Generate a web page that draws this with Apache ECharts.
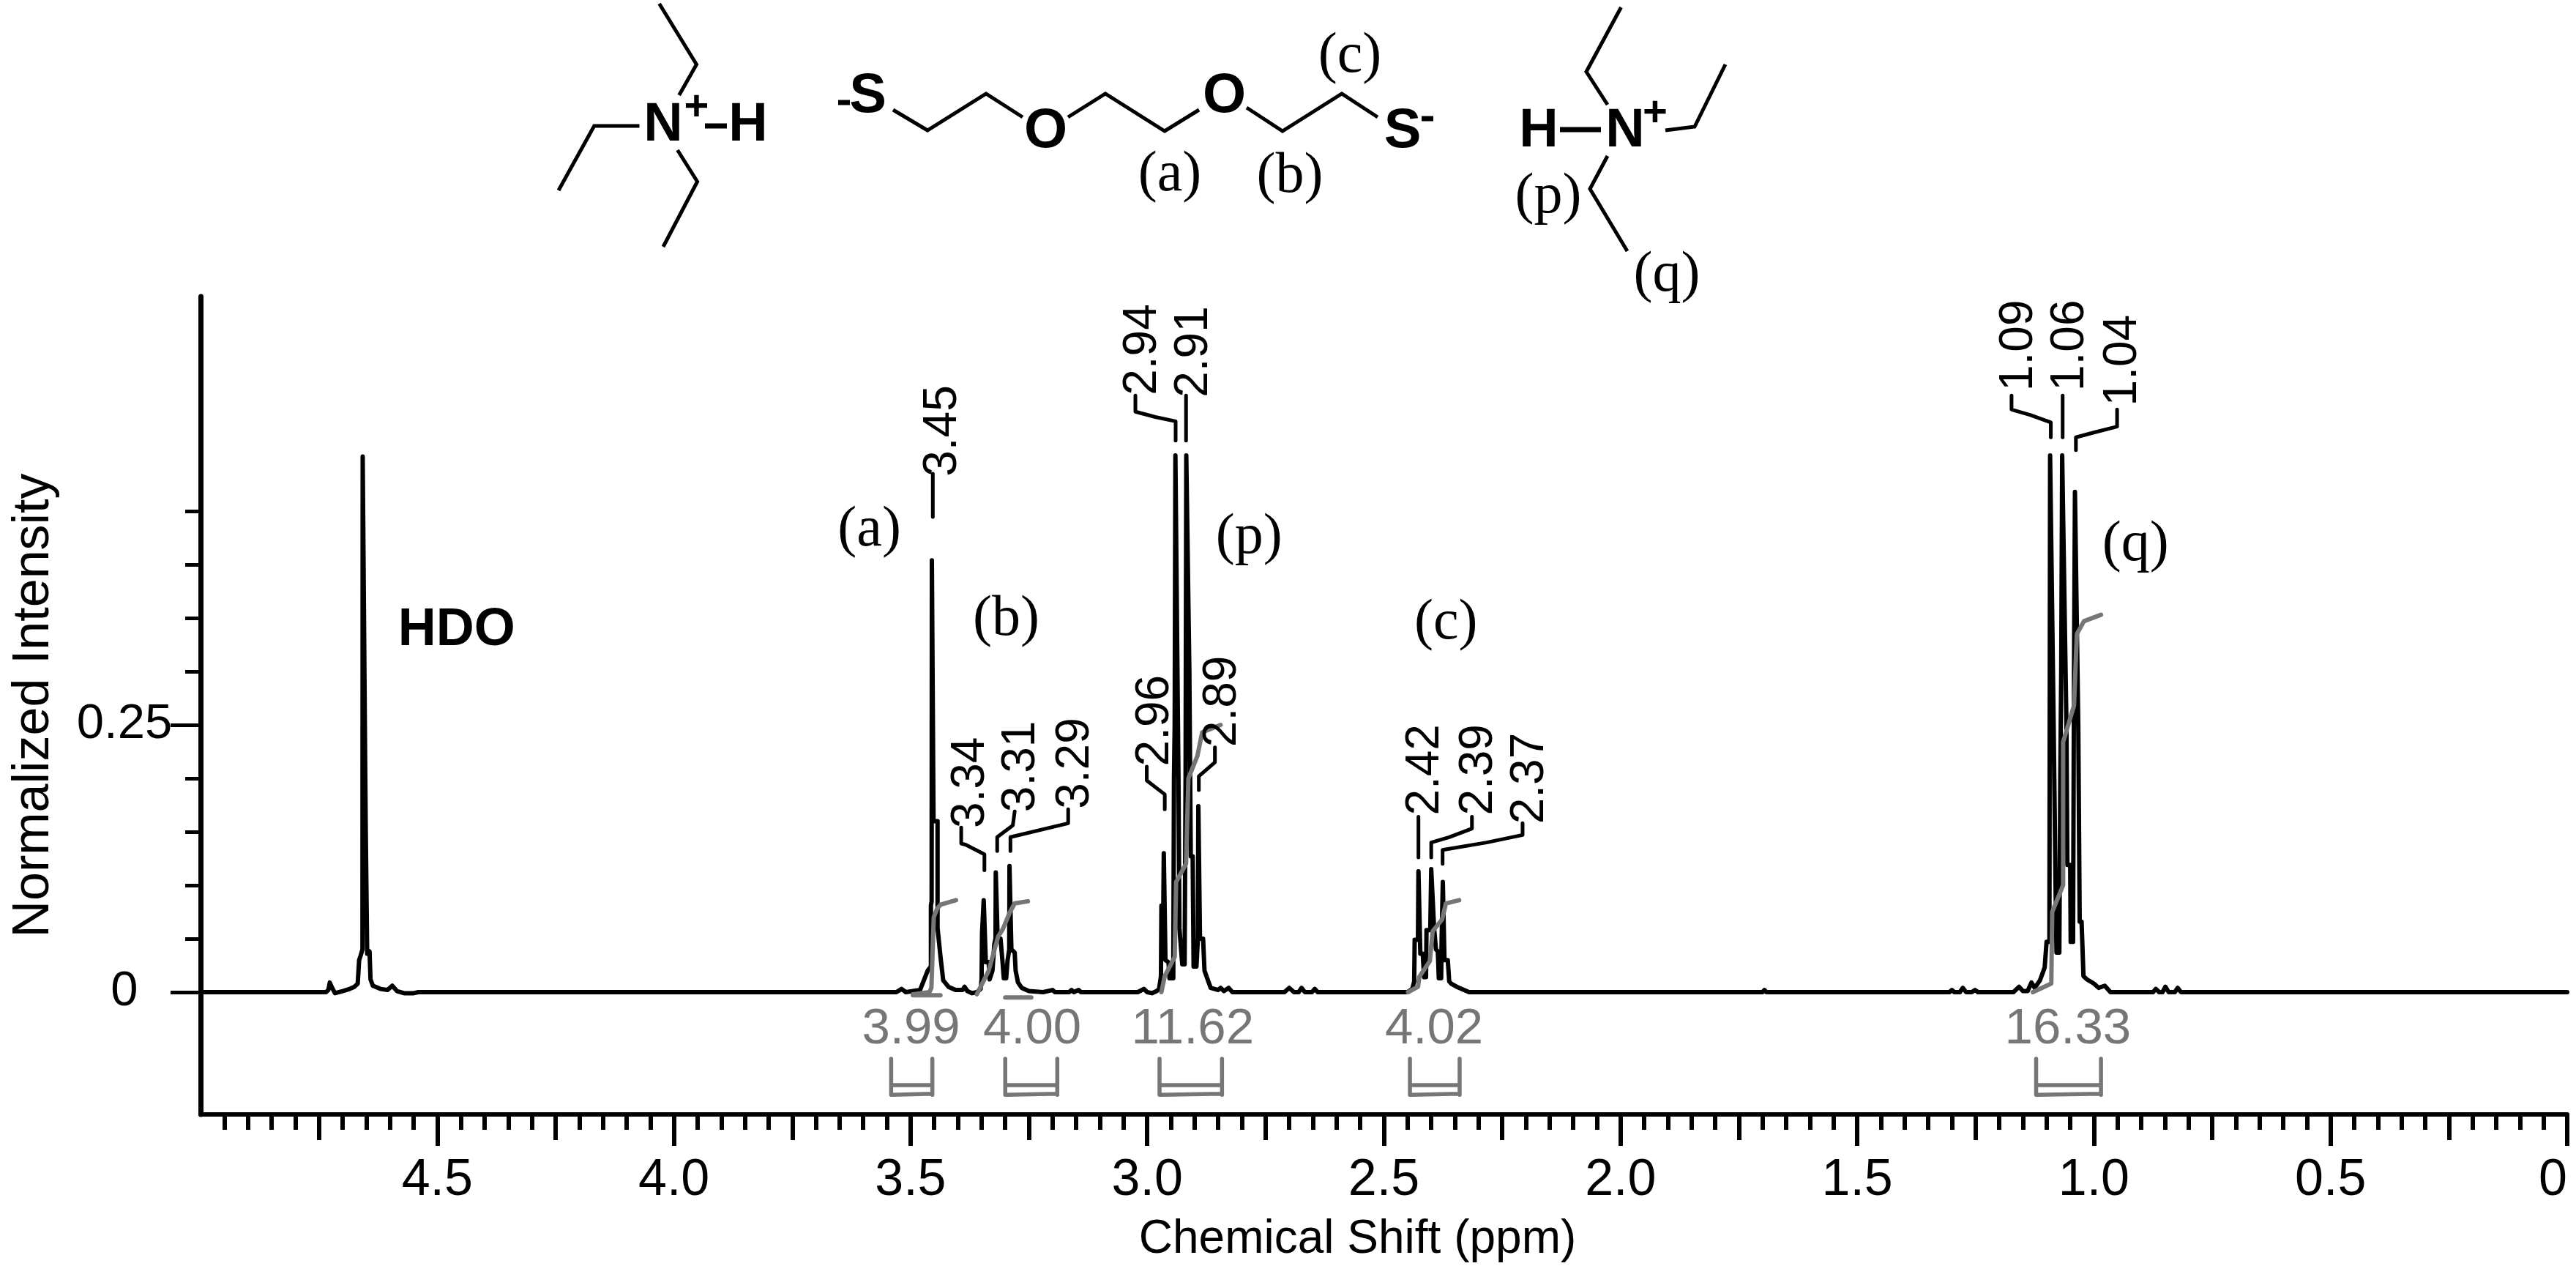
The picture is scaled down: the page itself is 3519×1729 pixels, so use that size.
<!DOCTYPE html>
<html><head><meta charset="utf-8">
<style>html,body{margin:0;padding:0;background:#fff}#c{width:3519px;height:1729px}</style>
<script src="https://cdn.jsdelivr.net/npm/echarts@6/dist/echarts.min.js"></script>
</head><body><div id="c"></div>
<script>
// ---- spectrum trace [ppm, intensity] ----
const traceStart = [[5,0],[4.735,0]];
const hdoRegion = [[4.73,.002],[4.727,.009],[4.722,.004],[4.716,-.001],[4.70,.001],[4.685,.003],[4.675,.005],[4.668,.008],[4.665,.03],[4.662,.034],[4.658,.04],[4.6575,.501],[4.6545,.501],[4.652,.2],[4.651,.15],[4.648,.036],[4.643,.038],[4.641,.012],[4.636,.006],[4.62,.003],[4.605,.002],[4.595,.006],[4.585,.001],[4.57,-.001],[4.55,-.001],[4.54,0]];
const regionA = [[3.53,0],[3.519,.003],[3.51,0],[3.48,.002],[3.464,.02],[3.457,.024],[3.457,.081],[3.4555,.085],[3.455,.404],[3.452,.404],[3.4515,.16],[3.443,.16],[3.443,.06],[3.436,.03],[3.431,.011],[3.42,.005],[3.405,.002],[3.39,.002],[3.386,.005],[3.38,.001],[3.37,-.001]];
const regionB = [[3.36,0],[3.352,.003],[3.35,.012],[3.349,.055],[3.346,.055],[3.3455,.086],[3.3425,.086],[3.341,.028],[3.335,.028],[3.333,.012],[3.33,.012],[3.327,.02],[3.323,.045],[3.3205,.05],[3.32,.112],[3.317,.112],[3.316,.05],[3.31,.05],[3.306,.03],[3.303,.013],[3.298,.013],[3.295,.03],[3.2915,.04],[3.291,.118],[3.288,.118],[3.287,.04],[3.28,.037],[3.278,.02],[3.273,.009],[3.265,.004],[3.25,.001],[3.22,0],[3.2,.002],[3.195,0],[3.165,0],[3.16,.002],[3.155,0],[3.145,.002],[3.14,0]];
const regionP = [[3.02,0],[3.007,.003],[3.0,0],[2.99,-.001],[2.98,.001],[2.975,.003],[2.971,.015],[2.970,.081],[2.966,.081],[2.965,.13],[2.962,.13],[2.9615,.03],[2.955,.028],[2.953,.013],[2.945,.013],[2.9435,.2],[2.942,.25],[2.9405,.502],[2.9375,.502],[2.934,.2],[2.932,.06],[2.926,.026],[2.921,.026],[2.919,.2],[2.9175,.502],[2.9145,.502],[2.911,.3],[2.908,.127],[2.904,.127],[2.902,.024],[2.896,.024],[2.893,.05],[2.8925,.05],[2.892,.174],[2.889,.174],[2.8885,.05],[2.882,.05],[2.879,.02],[2.875,.015],[2.866,.004],[2.85,.002],[2.845,.004],[2.838,.001],[2.828,.004],[2.82,0],[2.71,0],[2.70,.004],[2.69,0],[2.68,0],[2.674,.004],[2.667,0],[2.652,0],[2.646,.003],[2.64,0]];
const regionC = [[2.45,0],[2.44,.003],[2.436,.01],[2.435,.049],[2.428,.049],[2.427,.113],[2.424,.113],[2.423,.036],[2.418,.036],[2.415,.014],[2.411,.014],[2.41,.058],[2.402,.058],[2.4,.115],[2.397,.115],[2.394,.06],[2.39,.04],[2.386,.038],[2.384,.013],[2.379,.013],[2.378,.05],[2.376,.05],[2.3755,.103],[2.3725,.103],[2.372,.03],[2.365,.03],[2.362,.01],[2.358,.008],[2.346,.005],[2.32,0]];
const smallBumps = [[1.70,0],[1.696,.002],[1.692,0],[1.305,0],[1.30,.002],[1.295,0],[1.283,0],[1.277,.004],[1.27,0],[1.258,0],[1.251,.002],[1.245,0]];
const regionQ = [[1.17,0],[1.158,.005],[1.15,.001],[1.14,.001],[1.132,.009],[1.125,.004],[1.114,.011],[1.104,.023],[1.1,.047],[1.094,.047],[1.0925,.502],[1.0895,.502],[1.085,.25],[1.081,.1],[1.079,.037],[1.073,.037],[1.071,.2],[1.069,.3],[1.067,.502],[1.064,.502],[1.058,.25],[1.056,.119],[1.05,.119],[1.049,.047],[1.044,.047],[1.042,.3],[1.04,.468],[1.037,.468],[1.033,.25],[1.030,.066],[1.026,.066],[1.022,.015],[1.015,.012],[1.0,.008],[.99,.004],[.977,.006],[.965,.0],[.875,0],[.869,.003],[.862,0],[.855,0],[.849,.005],[.842,0],[.829,0],[.823,.004],[.816,0]];
const traceEnd = [[0,0]];

// ---- integral curves ----
const integralA = [[3.495,-.002],[3.46,0],[3.456,.004],[3.451,.07],[3.444,.078],[3.436,.082],[3.404,.086]];
const integralB = [[3.36,-.002],[3.335,.02],[3.315,.052],[3.305,.059],[3.29,.075],[3.28,.083],[3.252,.085]];
const integralP = [[2.970,0],[2.963,.015],[2.942,.033],[2.939,.103],[2.918,.12],[2.913,.2],[2.894,.221],[2.884,.243],[2.845,.25]];
const integralC = [[2.449,0],[2.428,.005],[2.425,.0145],[2.403,.029],[2.397,.057],[2.377,.068],[2.369,.083],[2.341,.086]];
const integralQ = [[1.129,0],[1.09,.008],[1.088,.075],[1.065,.1],[1.065,.234],[1.042,.268],[1.036,.335],[1.021,.347],[.985,.353]];
const integralTailA = [[3.495,-.003],[3.437,-.003]];
const integralTailB = [[3.3,-.005],[3.245,-.005]];

// ---- integral range brackets ----
const bracketA = [[3.541,-.0623],[3.541,-.096],[3.541,-.095],[3.454,-.095],[3.454,-.0623],[3.454,-.096],[3.454,-.087],[3.541,-.087]];
const bracketB = [[3.30,-.0623],[3.30,-.096],[3.30,-.095],[3.19,-.095],[3.19,-.0623],[3.19,-.096],[3.19,-.087],[3.30,-.087]];
const bracketP = [[2.974,-.0623],[2.974,-.096],[2.974,-.095],[2.842,-.095],[2.842,-.0623],[2.842,-.096],[2.842,-.087],[2.974,-.087]];
const bracketC = [[2.445,-.0623],[2.445,-.096],[2.445,-.095],[2.34,-.095],[2.34,-.0623],[2.34,-.096],[2.34,-.087],[2.445,-.087]];
const bracketQ = [[1.122,-.0623],[1.122,-.096],[1.122,-.095],[.985,-.095],[.985,-.0623],[.985,-.096],[.985,-.087],[1.122,-.087]];

// ---- peak pick leaders ----
const leaders = [
 [[3.453,.4445],[3.453,.485]],
 [[3.344,.114],[3.344,.129],[3.384,.138],[3.393,.139],[3.393,.154]],
 [[3.317,.132],[3.317,.145],[3.284,.156],[3.280,.169]],
 [[3.289,.132],[3.289,.145],[3.167,.158],[3.167,.171]],
 [[2.963,.171],[2.963,.185],[3.001,.198],[3.001,.211]],
 [[2.940,.516],[2.940,.534],[2.983,.538],[3.025,.543],[3.025,.558]],
 [[2.918,.516],[2.918,.558]],
 [[2.891,.189],[2.891,.202],[2.857,.215],[2.857,.229]],
 [[2.427,.126],[2.427,.164]],
 [[2.400,.126],[2.400,.140],[2.362,.145],[2.314,.153],[2.314,.164]],
 [[2.376,.120],[2.376,.133],[2.283,.140],[2.207,.147],[2.207,.158]],
 [[1.091,.519],[1.091,.533],[1.135,.540],[1.174,.545],[1.174,.558]],
 [[1.066,.519],[1.066,.558]],
 [[1.038,.507],[1.038,.519],[.996,.524],[.951,.529],[.951,.545]]
];

// ---- labels ----
const peakLabels = [['3.45',3.431,.525],['3.34',3.373,.196],['3.31',3.266,.211],['3.29',3.151,.214],['2.96',2.983,.254],['2.94',3.009,.601],['2.91',2.901,.599],['2.89',2.841,.272],['2.42',2.412,.208],['2.39',2.299,.208],['2.37',2.191,.200],['1.09',1.158,.605],['1.06',1.050,.605],['1.04',.938,.591]];
const integralLabels = [['3.99',3.499,-.035],['4.00',3.243,-.035],['11.62',2.904,-.035],['4.02',2.394,-.035],['16.33',1.055,-.035]];
const assignLabels = [['(a)',3.587,.432],['(b)',3.298,.348],['(p)',2.785,.425],['(c)',2.369,.345],['(q)',.912,.418]];
const solventLabels = [['HDO',4.459,.338]];
const xMajorTicks = [0,.5,1,1.5,2,2.5,3,3.5,4,4.5];
const xMidTicks = [.25,.75,1.25,1.75,2.25,2.75,3.25,3.75,4.25,4.75];
const yMajorTicks = [0,.25];
const yMinorTicks = [.05,.1,.15,.2,.3,.35,.4,.45];

const spectrum = [].concat(traceStart,hdoRegion,regionA,regionB,regionP,regionC,smallBumps,regionQ,traceEnd);
const SANS='"Liberation Sans",Arial,sans-serif', SERIF='"Liberation Serif","Times New Roman",serif';
const GRAY='#767676';
const gridBox={left:274,right:12,top:405,bottom:207,outerBoundsMode:'none'};
const yMin=-.1144,yMax=.6507;

function lineS(data,color,w,z){return {type:'line',data:data,symbol:'none',silent:true,animation:false,clip:false,z:z||2,
  lineStyle:{color:color,width:w,cap:'round',join:'round'}};}
function textS(items,font){return {type:'scatter',symbolSize:1,silent:true,animation:false,z:6,itemStyle:{color:'transparent',opacity:1},
  data:items.map(d=>({name:d[0],value:[d[1],d[2]]})),
  label:Object.assign({show:true,position:'inside',formatter:'{b}',align:'center',verticalAlign:'middle',color:'#000',opacity:1},font)};}

const series=[lineS(spectrum,'#000',6,2)];
[integralA,integralB,integralP,integralC,integralQ,integralTailA,integralTailB].forEach(d=>series.push(lineS(d,GRAY,6,5)));
[bracketA,bracketB,bracketP,bracketC,bracketQ].forEach(d=>series.push(lineS(d,GRAY,5.5,5)));
leaders.forEach(d=>series.push(lineS(d,'#000',5,3)));
series.push(textS(peakLabels,{fontFamily:SANS,fontSize:64,rotate:90}));
series.push(textS(integralLabels,{fontFamily:SANS,fontSize:69,color:GRAY}));
series.push(textS(assignLabels,{fontFamily:SERIF,fontSize:78}));
series.push(textS(solventLabels,{fontFamily:SANS,fontSize:72,fontWeight:'bold'}));

// ---- chemical structures drawn above the plot ----
const struct=[
 [[900.6,5],[951.5,88],[927.7,130]],[[873.5,172],[811.7,172],[763,260]],[[925.5,205],[952.6,248],[906,337]],
 [[1220,150],[1267,178],[1347,128],[1397,160]],[[1459,160],[1510,128],[1591,179],[1638,150]],[[1703,147],[1752,179],[1833,128],[1882,160]],
 [[2275,178],[2315,173],[2357,88]],[[2196,143],[2167,98],[2214.5,10]],[[2196,213],[2172,258],[2223,343]]
];
const structBold=[[[963,172],[993,172]],[[2131,177],[2187,177]],[[1145,140],[1161,140]],[[1942,162],[1958,162]]];
const structText=[
 ['N',906,172,74,'bold',SANS],['+',951.5,148,58,'bold',SANS],['H',1022,172,74,'bold',SANS],
 ['S',1185.7,132,76,'bold',SANS],['O',1428.5,180,76,'bold',SANS],['O',1672.5,132,76,'bold',SANS],['S',1916,180,76,'bold',SANS],
 ['H',2102,180,74,'bold',SANS],['N',2220,180,74,'bold',SANS],['+',2261,156,58,'bold',SANS],
 ['(a)',1598,240,78,'normal',SERIF],['(b)',1762,242,78,'normal',SERIF],['(c)',1844,78,78,'normal',SERIF],['(p)',2115,270,78,'normal',SERIF],['(q)',2277,377,78,'normal',SERIF]
];
const graphic=[];
struct.forEach(p=>graphic.push({type:'polyline',shape:{points:p},silent:true,style:{stroke:'#000',lineWidth:5,fill:null}}));
structBold.forEach(p=>graphic.push({type:'polyline',shape:{points:p},silent:true,style:{stroke:'#000',lineWidth:7,fill:null}}));
structText.forEach(t=>graphic.push({type:'text',x:t[1],y:t[2],silent:true,style:{text:t[0],fill:'#000',font:t[4]+' '+t[3]+'px '+t[5],textAlign:'center',textVerticalAlign:'middle'}}));

const plotW=3519-gridBox.left-gridBox.right, plotH=1729-gridBox.top-gridBox.bottom;
const chart=echarts.init(document.getElementById('c'),null,{renderer:'canvas'});
chart.setOption({
 animation:false,backgroundColor:'#fff',
 grid:gridBox,
 xAxis:[{type:'value',inverse:true,min:0,max:5,interval:.5,position:'bottom',splitLine:{show:false},
   axisLine:{lineStyle:{color:'#000',width:6},onZero:false},
   axisTick:{customValues:xMajorTicks,length:43,lineStyle:{color:'#000',width:6}},
   minorTick:{show:true,splitNumber:10,length:21,lineStyle:{color:'#000',width:6}},
   axisLabel:{customValues:xMajorTicks,margin:56,color:'#000',fontFamily:SANS,fontSize:70,alignMinLabel:'right',
     formatter:v=>v===0?'0':v.toFixed(1)},
   name:'Chemical Shift (ppm)',nameLocation:'middle',nameGap:139,nameTextStyle:{color:'#000',fontFamily:SANS,fontSize:64,padding:[0,72,0,0]}},
  {type:'value',inverse:true,min:0,max:5,position:'top',offset:-plotH,splitLine:{show:false},axisLine:{show:false,onZero:false},
   axisTick:{customValues:xMidTicks,inside:true,length:35,lineStyle:{color:'#000',width:6}},axisLabel:{show:false}}],
 yAxis:[{type:'value',min:yMin,max:yMax,position:'left',splitLine:{show:false},
   axisLine:{lineStyle:{color:'#000',width:7},onZero:false},
   axisTick:{customValues:yMajorTicks,length:41,lineStyle:{color:'#000',width:5}},
   axisLabel:{customValues:yMajorTicks,margin:104,align:'center',padding:[8,0,0,0],color:'#000',fontFamily:SANS,fontSize:67,formatter:v=>v===0?'0':String(v)},
   name:'Normalized Intensity',nameLocation:'middle',nameGap:192,nameRotate:90,nameTextStyle:{color:'#000',fontFamily:SANS,fontSize:70}},
  {type:'value',min:yMin,max:yMax,position:'right',offset:-plotW,splitLine:{show:false},axisLine:{show:false,onZero:false},
   axisTick:{customValues:yMinorTicks,inside:true,length:21,lineStyle:{color:'#000',width:5}},axisLabel:{show:false}}],
 series:series,
 graphic:graphic
});
</script></body></html>
